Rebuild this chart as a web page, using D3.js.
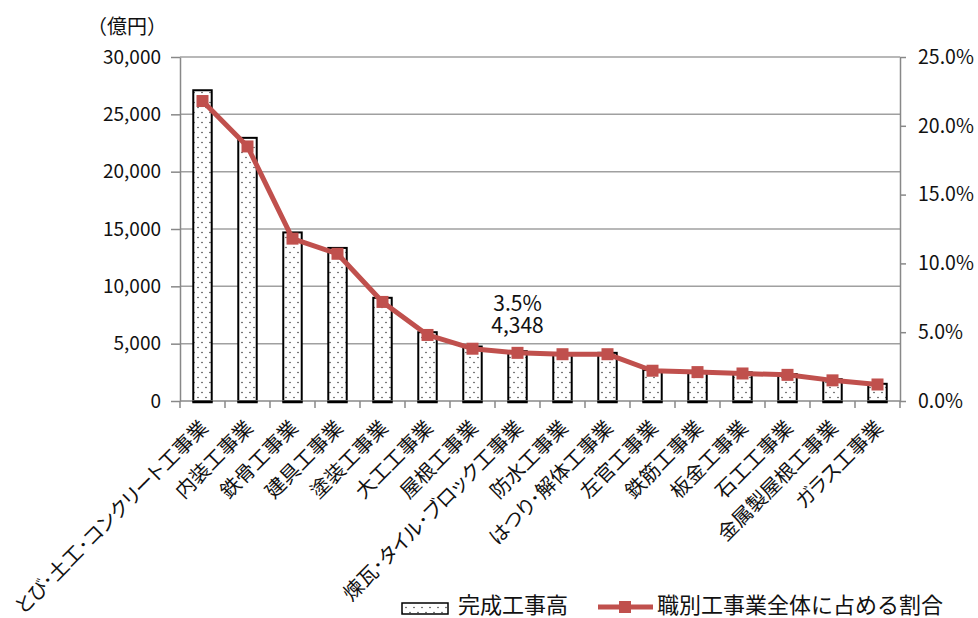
<!DOCTYPE html>
<html lang="ja">
<head>
<meta charset="utf-8">
<script src="https://cdn.jsdelivr.net/npm/d3@7/dist/d3.min.js"></script>
<style>
  html, body { margin: 0; padding: 0; background: #fff; }
  svg { display: block; font-family: "Noto Sans CJK JP", "Noto Sans", sans-serif; }
  .cat { font-feature-settings: "palt"; }
</style>
</head>
<body>
<svg id="chart" width="978" height="618"></svg>
<script>
// 職別工事業の完成工事高と全体に占める割合
const categories = [
  "とび･土工･コンクリート工事業", "内装工事業", "鉄骨工事業", "建具工事業",
  "塗装工事業", "大工工事業", "屋根工事業", "煉瓦･タイル･ブロック工事業",
  "防水工事業", "はつり･解体工事業", "左官工事業", "鉄筋工事業",
  "板金工事業", "石工工事業", "金属製屋根工事業", "ガラス工事業"
];
// 完成工事高（億円）
const salesValues = [27100, 22950, 14700, 13350, 9000, 6000, 4750, 4348,
                     4150, 4200, 2700, 2600, 2500, 2350, 1900, 1500];
// 職別工事業全体に占める割合（%）
const shareValues = [21.8, 18.5, 11.8, 10.7, 7.2, 4.8, 3.8, 3.5,
                     3.4, 3.4, 2.2, 2.1, 2.0, 1.9, 1.5, 1.2];
const leftTicks = [0, 5000, 10000, 15000, 20000, 25000, 30000];
const rightTicks = [0, 5, 10, 15, 20, 25];
const highlightIndex = 7; // 値を表示する項目
const legendLabels = ["完成工事高", "職別工事業全体に占める割合"];
const unitLabel = "（億円）";

const svg = d3.select("#chart");
const plot = { left: 180, right: 900, top: 57, bottom: 401 };
const RED = "#c0504d";

const x = d3.scaleBand().domain(categories)
  .range([plot.left, plot.right]).paddingInner(0.59).paddingOuter(0.295);
const y = d3.scaleLinear().domain([0, 30000]).range([plot.bottom, plot.top]);
const yr = d3.scaleLinear().domain([0, 25]).range([plot.bottom, plot.top]);

// dotted fill for the bars
const defs = svg.append("defs");
const pat = defs.append("pattern").attr("id", "dots")
  .attr("patternUnits", "userSpaceOnUse").attr("width", 8).attr("height", 10);
pat.append("rect").attr("width", 8).attr("height", 10).attr("fill", "#fff");
pat.append("circle").attr("cx", 2).attr("cy", 2.5).attr("r", 0.75).attr("fill", "#333");
pat.append("circle").attr("cx", 6).attr("cy", 7.5).attr("r", 0.75).attr("fill", "#333");

// gridlines
svg.append("g").selectAll("line").data(leftTicks.filter(d => d > 0)).join("line")
  .attr("x1", plot.left).attr("x2", plot.right)
  .attr("y1", d => y(d)).attr("y2", d => y(d))
  .attr("stroke", "#a0a0a0").attr("stroke-width", 1.5);

// left axis
const gl = svg.append("g").attr("transform", `translate(${plot.left},0)`)
  .call(d3.axisLeft(y).tickValues(leftTicks).tickSize(9).tickSizeOuter(0)
    .tickFormat(d3.format(",")));
gl.select(".domain").attr("stroke", "#888").attr("stroke-width", 1.5);
gl.selectAll(".tick line").attr("stroke", "#888").attr("stroke-width", 1.5);
gl.selectAll(".tick text").attr("x", -19).attr("font-size", 19)
  .attr("fill", "#111").attr("font-family", "'Noto Sans CJK JP', sans-serif");

// right axis
const gr = svg.append("g").attr("transform", `translate(${plot.right},0)`)
  .call(d3.axisRight(yr).tickValues(rightTicks).tickSize(6).tickSizeOuter(0)
    .tickFormat(d => d.toFixed(1) + "%"));
gr.select(".domain").attr("stroke", "#888").attr("stroke-width", 1.5);
gr.selectAll(".tick line").attr("stroke", "#888").attr("stroke-width", 1.5);
gr.selectAll(".tick text").attr("x", 18).attr("font-size", 19.5)
  .attr("fill", "#111").attr("font-family", "'Noto Sans CJK JP', sans-serif");

// unit label
svg.append("text").attr("x", 167).attr("y", 34).attr("text-anchor", "end")
  .attr("font-size", 20).attr("fill", "#111").text(unitLabel);

// bars
svg.append("g").selectAll("rect").data(categories).join("rect")
  .attr("x", d => x(d)).attr("width", x.bandwidth())
  .attr("y", (d, i) => y(salesValues[i]))
  .attr("height", (d, i) => plot.bottom - y(salesValues[i]))
  .attr("fill", "url(#dots)").attr("stroke", "#000").attr("stroke-width", 2);

// bottom axis with ticks on category boundaries
const step = x.step();
const bounds = d3.range(categories.length + 1).map(i => plot.left + i * step);
const gb = svg.append("g");
gb.append("line").attr("x1", plot.left).attr("x2", plot.right)
  .attr("y1", plot.bottom).attr("y2", plot.bottom)
  .attr("stroke", "#888").attr("stroke-width", 1.5);
gb.selectAll("line.tk").data(bounds).join("line").attr("class", "tk")
  .attr("x1", d => d).attr("x2", d => d)
  .attr("y1", plot.bottom).attr("y2", plot.bottom + 7)
  .attr("stroke", "#888").attr("stroke-width", 1.5);
// bar bottoms drawn over the axis
svg.append("g").selectAll("line").data(categories).join("line")
  .attr("x1", d => x(d) - 1).attr("x2", d => x(d) + x.bandwidth() + 1)
  .attr("y1", plot.bottom + 1).attr("y2", plot.bottom + 1)
  .attr("stroke", "#000").attr("stroke-width", 2.5);

// category labels
svg.append("g").selectAll("text").data(categories).join("text")
  .attr("class", "cat")
  .attr("transform", d => `translate(${x(d) + x.bandwidth() / 2 + 7},${plot.bottom + 28}) rotate(-45)`)
  .attr("text-anchor", "end").attr("font-size", 20).attr("fill", "#111")
  .text(d => d);

// share line
const cx = (d) => x(d) + x.bandwidth() / 2;
svg.append("path").datum(categories)
  .attr("d", d3.line().x(d => cx(d)).y((d, i) => yr(shareValues[i])))
  .attr("fill", "none").attr("stroke", RED).attr("stroke-width", 5)
  .attr("stroke-linejoin", "round");
svg.append("g").selectAll("rect").data(categories).join("rect")
  .attr("x", d => cx(d) - 6).attr("y", (d, i) => yr(shareValues[i]) - 6)
  .attr("width", 12).attr("height", 12).attr("fill", RED);

// value annotation (share on the first line, amount on the second)
const hc = categories[highlightIndex];
const note = svg.append("text").attr("text-anchor", "middle")
  .attr("font-size", 21).attr("fill", "#111");
note.append("tspan").attr("x", cx(hc)).attr("y", 311)
  .text(shareValues[highlightIndex].toFixed(1) + "%");
note.append("tspan").attr("x", cx(hc)).attr("y", 333)
  .text(d3.format(",")(salesValues[highlightIndex]));

// legend
const lg = svg.append("g");
lg.append("rect").attr("x", 402).attr("y", 603).attr("width", 46).attr("height", 11)
  .attr("fill", "url(#dots)").attr("stroke", "#000").attr("stroke-width", 1.5);
lg.append("text").attr("x", 458).attr("y", 613).attr("font-size", 22).attr("fill", "#111")
  .text(legendLabels[0]);
lg.append("line").attr("x1", 598).attr("x2", 653).attr("y1", 607).attr("y2", 607)
  .attr("stroke", RED).attr("stroke-width", 5);
lg.append("rect").attr("x", 619).attr("y", 601).attr("width", 12).attr("height", 12).attr("fill", RED);
lg.append("text").attr("x", 657).attr("y", 613).attr("font-size", 22).attr("fill", "#111")
  .text(legendLabels[1]);
</script>
</body>
</html>
